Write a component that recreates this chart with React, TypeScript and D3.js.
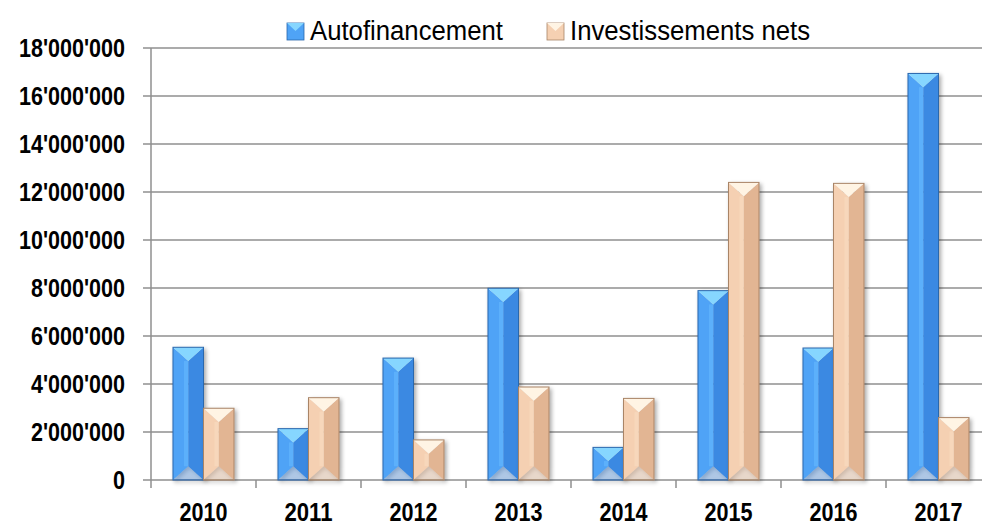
import React from "react";
import * as d3 from "d3";

const years = ["2010", "2011", "2012", "2013", "2014", "2015", "2016", "2017"];
const autofinancement = [5530000, 2140000, 5080000, 7990000, 1360000, 7890000, 5500000, 16940000];
const investissements = [2990000, 3430000, 1670000, 3875000, 3400000, 12400000, 12360000, 2600000];
const seriesNames = ["Autofinancement", "Investissements nets"];
const yTicks = [0, 2000000, 4000000, 6000000, 8000000, 10000000, 12000000, 14000000, 16000000, 18000000];

const W = 982;
const H = 525;
const FONT = "'Liberation Sans', Arial, sans-serif";

const palettes = [
  { left: "#4fa3f6", right: "#3a89e2", top: "#86d6ff", bottom: "#2f78cc", stroke: "#2a67ad", mid: "#66b9ff" },
  { left: "#f5d0b2", right: "#e2b593", top: "#fff4e4", bottom: "#d4a482", stroke: "#a98466", mid: "#f9dcc2" },
];

function fmt(v: number) {
  return d3.format(",")(v).replace(/,/g, "'");
}

// condensed look: width per digit / apostrophe
function labelLen(s: string) {
  let w = 0;
  for (const c of s) w += c === "'" ? 5 : 12;
  return w;
}

function Bar({ x0, w, y0, yb, p }: { x0: number; w: number; y0: number; yb: number; p: any }) {
  const x1 = x0 + w;
  const xm = x0 + w / 2;
  const h = yb - y0;
  const d = Math.min(w * 0.45, h / 2);
  return (
    <g filter="url(#shadow)">
      <polygon points={`${x0},${y0} ${xm},${y0 + d} ${xm},${yb - d} ${x0},${yb}`} fill={p.left} />
      <polygon points={`${x1},${y0} ${xm},${y0 + d} ${xm},${yb - d} ${x1},${yb}`} fill={p.right} />
      <rect x={xm - w * 0.14} y={y0 + d} width={w * 0.14} height={Math.max(0, h - 2 * d)} fill={p.mid} opacity={0.6} />
      <polygon points={`${x0},${y0} ${x1},${y0} ${xm},${y0 + d}`} fill={p.top} />
      <polygon points={`${x0},${yb} ${x1},${yb} ${xm},${yb - d}`} fill={p.bottom} opacity={0.3} />
      <rect x={x0} y={y0} width={w} height={h} fill="none" stroke={p.stroke} strokeWidth={1} />
    </g>
  );
}

export default function App() {
  const x = d3.scaleBand<string>().domain(years).range([151, 991]).paddingInner(0).paddingOuter(0);
  const x1 = d3.scaleBand<string>().domain(seriesNames).range([0, x.bandwidth()]).paddingInner(0).paddingOuter(0.72);
  const y = d3.scaleLinear().domain([0, 18000000]).range([480, 48]);
  const data = [autofinancement, investissements];

  return (
    <svg width={W} height={H} style={{ position: "absolute", left: 0, top: 0, background: "#fff" }} fontFamily={FONT}>
      <defs>
        <filter id="shadow" x="-30%" y="-10%" width="160%" height="130%">
          <feGaussianBlur in="SourceAlpha" stdDeviation="2" />
          <feOffset dx="1.5" dy="1.5" result="ob" />
          <feComponentTransfer><feFuncA type="linear" slope="0.35" /></feComponentTransfer>
          <feMerge><feMergeNode /><feMergeNode in="SourceGraphic" /></feMerge>
        </filter>
      </defs>
      {yTicks.map((t) => (
        <g key={t}>
          <line x1={143} x2={W} y1={y(t)} y2={y(t)} stroke="#8f8f8f" strokeWidth={1.5} />
          <text x={125} y={y(t)} dy="0.36em" textAnchor="end" fontSize={25} fontWeight="bold" fill="#000"
            textLength={labelLen(fmt(t))} lengthAdjust="spacingAndGlyphs">
            {fmt(t)}
          </text>
        </g>
      ))}
      <line x1={151} x2={151} y1={y(18000000)} y2={y(0) + 8} stroke="#8f8f8f" strokeWidth={1.5} />
      {years.map((yr) => (
        <line key={"tk" + yr} x1={(x(yr) as number) + x.bandwidth()} x2={(x(yr) as number) + x.bandwidth()} y1={y(0)} y2={y(0) + 8} stroke="#8f8f8f" strokeWidth={1.5} />
      ))}
      {years.map((yr, i) => (
        <g key={yr}>
          {data.map((s, k) => (
            <Bar key={k} x0={(x(yr) as number) + (x1(seriesNames[k]) as number)} w={x1.bandwidth()} y0={y(s[i])} yb={y(0)} p={palettes[k]} />
          ))}
        </g>
      ))}
      {years.map((yr) => (
        <text key={"l" + yr} x={(x(yr) as number) + x.bandwidth() / 2} y={521} textAnchor="middle" fontSize={25} fontWeight="bold" fill="#000"
          textLength={labelLen(yr)} lengthAdjust="spacingAndGlyphs">
          {yr}
        </text>
      ))}
      <g>
        <rect x={287} y={23} width={17} height={17} fill={palettes[0].left} stroke={palettes[0].stroke} strokeWidth={0.8} />
        <polygon points="287,23 304,23 295.5,31" fill={palettes[0].top} />
        <text x={310} y={40} fontSize={27} fill="#000" textLength={193} lengthAdjust="spacingAndGlyphs">{seriesNames[0]}</text>
        <rect x={547} y={23} width={17} height={17} fill={palettes[1].left} stroke={palettes[1].stroke} strokeWidth={0.8} />
        <polygon points="547,23 564,23 555.5,31" fill={palettes[1].top} />
        <text x={570} y={40} fontSize={27} fill="#000" textLength={240} lengthAdjust="spacingAndGlyphs">{seriesNames[1]}</text>
      </g>
    </svg>
  );
}
